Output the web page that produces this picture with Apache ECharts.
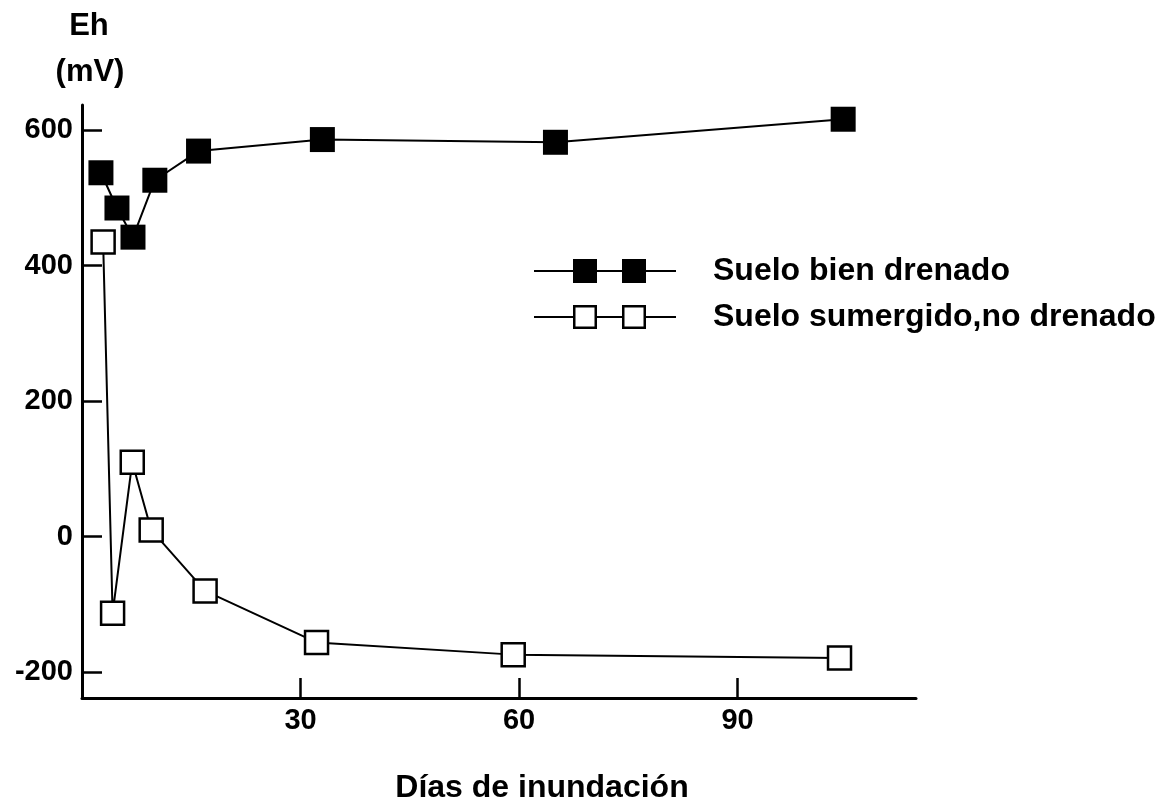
<!DOCTYPE html>
<html>
<head>
<meta charset="utf-8">
<script src="https://cdn.jsdelivr.net/npm/echarts@6/dist/echarts.min.js"></script>
<style>
    html, body { margin: 0; padding: 0; background: #fff; }
    #chart { width: 1176px; height: 805px; }
</style>
</head>
<body>
<div id="chart"></div>
<script>
// valores
let drenadoDias = [2.6, 4.8, 7, 10, 16, 33, 65, 104.5];
let drenadoEh = [537, 485, 442, 526, 569, 586, 582, 616];

let sumergidoDias = [2.9, 4.2, 6.9, 9.5, 16.9, 32.2, 59.2, 104];
let sumergidoEh = [435, -113, 110, 10, -80, -156, -174, -179];

let yTicks = [-200, 0, 200, 400, 600];
let xTicks = [30, 60, 90];

let serieNames = ['Suelo bien drenado', 'Suelo sumergido,no drenado'];

let font = '"Liberation Sans", Arial, sans-serif';

function pairs(xs, ys) {
    return xs.map(function (x, i) {
        return [x, ys[i]];
    });
}

// iconos de leyenda: linea con dos cuadrados
let iconFilled = 'path://M0 11H142V13H0Z M39 0H63V24H39Z M88 0H112V24H88Z';
let iconOpen = 'path://M0 11H39V13H0Z M63 11H88V13H63Z M112 11H142V13H112Z' +
    ' M39 0H63V24H39Z M41.5 2.5V21.5H60.5V2.5Z' +
    ' M88 0H112V24H88Z M90.5 2.5V21.5H109.5V2.5Z';

let chart = echarts.init(document.getElementById('chart'));

let option = {
    backgroundColor: '#fff',
    animation: false,
    grid: {
        left: 82,
        right: 260,
        top: 105,
        bottom: 107
    },
    legend: {
        orient: 'vertical',
        left: 534,
        top: 255,
        padding: 0,
        itemWidth: 142,
        itemHeight: 24,
        itemGap: 14,
        textStyle: {
            fontFamily: font,
            fontWeight: 'bold',
            fontSize: 32,
            color: '#000',
            padding: [0, 0, 0, 32]
        },
        data: [
            {name: serieNames[0], icon: iconFilled, itemStyle: {color: '#000', borderWidth: 0}},
            {name: serieNames[1], icon: iconOpen, itemStyle: {color: '#000', borderWidth: 0}}
        ]
    },
    xAxis: {
        type: 'value',
        min: 0,
        max: 114.5,
        splitLine: {show: false},
        axisLine: {onZero: false, lineStyle: {color: '#000', width: 3}},
        axisTick: {
            inside: true,
            length: 20,
            customValues: xTicks,
            lineStyle: {color: '#000', width: 2.5}
        },
        axisLabel: {
            customValues: xTicks,
            margin: 8,
            color: '#000',
            fontFamily: font,
            fontWeight: 'bold',
            fontSize: 29
        }
    },
    yAxis: {
        type: 'value',
        min: -238,
        max: 637,
        splitLine: {show: false},
        axisLine: {show: true, onZero: false, lineStyle: {color: '#000', width: 3}},
        axisTick: {
            show: true,
            inside: true,
            length: 20,
            customValues: yTicks,
            lineStyle: {color: '#000', width: 2.5}
        },
        axisLabel: {
            customValues: yTicks,
            margin: 9,
            color: '#000',
            fontFamily: font,
            fontWeight: 'bold',
            fontSize: 29
        }
    },
    graphic: [
        {
            type: 'text', x: 89, y: 26,
            style: {text: 'Eh', textAlign: 'center', textVerticalAlign: 'middle',
                font: 'bold 31px ' + font, fill: '#000'}
        },
        {
            type: 'text', x: 90, y: 72,
            style: {text: '(mV)', textAlign: 'center', textVerticalAlign: 'middle',
                font: 'bold 31px ' + font, fill: '#000'}
        },
        {
            type: 'text', x: 542, y: 788,
            style: {text: 'Días de inundación', textAlign: 'center', textVerticalAlign: 'middle',
                font: 'bold 32px ' + font, fill: '#000'}
        }
    ],
    series: [
        {
            name: serieNames[0],
            type: 'line',
            data: pairs(drenadoDias, drenadoEh),
            symbol: 'rect',
            symbolSize: 25,
            lineStyle: {color: '#000', width: 2},
            itemStyle: {color: '#000', borderWidth: 0},
            z: 3
        },
        {
            name: serieNames[1],
            type: 'line',
            data: pairs(sumergidoDias, sumergidoEh),
            symbol: 'rect',
            symbolSize: 23,
            lineStyle: {color: '#000', width: 2},
            itemStyle: {color: '#fff', borderColor: '#000', borderWidth: 2.5},
            z: 2
        }
    ]
};

chart.setOption(option);
</script>
</body>
</html>
